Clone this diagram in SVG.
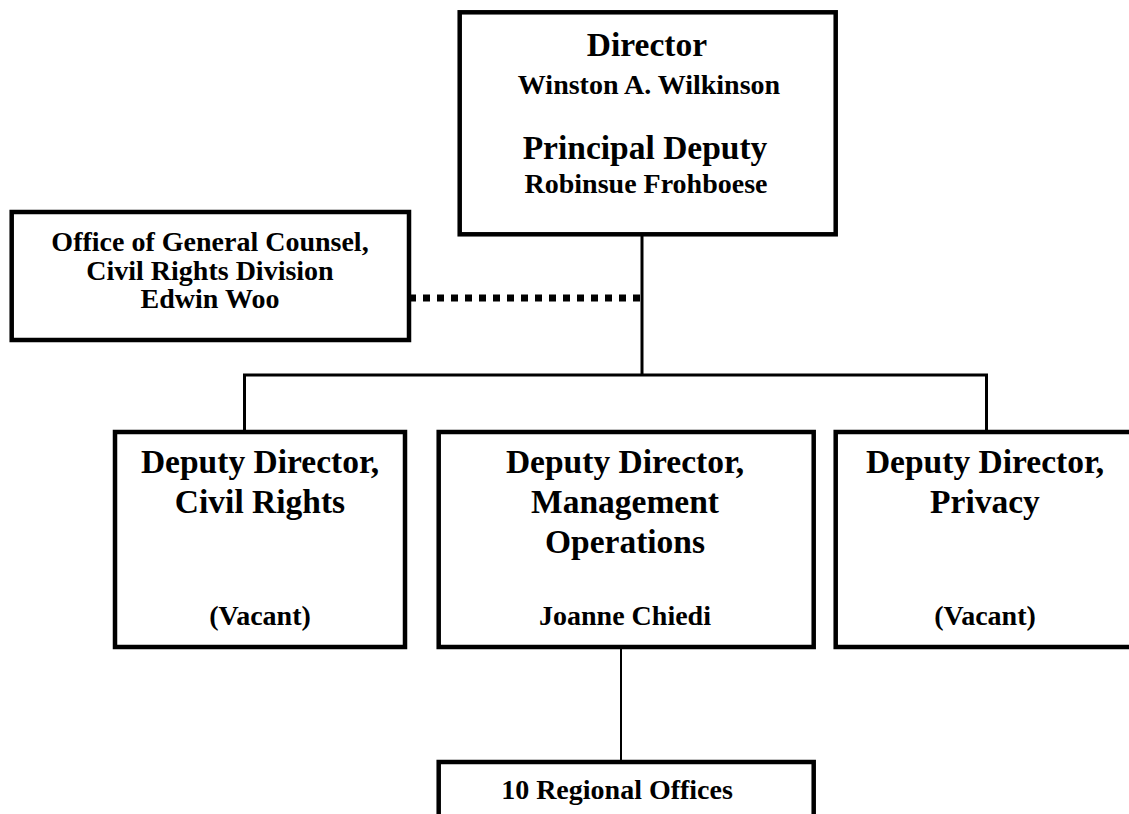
<svg xmlns="http://www.w3.org/2000/svg" width="1129" height="814" viewBox="0 0 1129 814">
<style>
.box{fill:#fff;stroke:#000;stroke-width:4.5}
.t{font-family:"Liberation Serif","Times New Roman",serif;font-weight:bold;font-size:33.5px;text-anchor:middle;fill:#000}
.n{font-family:"Liberation Serif","Times New Roman",serif;font-weight:bold;font-size:28px;text-anchor:middle;fill:#000}
.c{fill:none;stroke:#000;stroke-width:3}
</style>
<rect width="1129" height="814" fill="#fff"/>
<g id="connectors">
<line class="c" x1="642" y1="234" x2="642" y2="375"/>
<polyline class="c" points="244.5,432 244.5,375 986.5,375 986.5,432"/>
<line x1="409" y1="298" x2="642" y2="298" stroke="#000" stroke-width="7" stroke-dasharray="7,7"/>
<line x1="621" y1="647" x2="621" y2="762" stroke="#000" stroke-width="2"/>
</g>
<g id="director">
<rect class="box" x="459.7" y="12.3" width="376" height="222"/>
<text class="t" x="647" y="56">Director</text>
<text class="n" x="649" y="94">Winston A. Wilkinson</text>
<text class="t" x="645" y="159">Principal Deputy</text>
<text class="n" x="646" y="193">Robinsue Frohboese</text>
</g>
<g id="ogc">
<rect class="box" x="11.7" y="212" width="397.3" height="128"/>
<text class="n" x="210" y="251">Office of General Counsel,</text>
<text class="n" x="210" y="280">Civil Rights Division</text>
<text class="n" x="210" y="308">Edwin Woo</text>
</g>
<g id="dd-civil-rights">
<rect class="box" x="115" y="432" width="290" height="215"/>
<text class="t" x="260" y="473">Deputy Director,</text>
<text class="t" x="260" y="513">Civil Rights</text>
<text class="n" x="260" y="625">(Vacant)</text>
</g>
<g id="dd-management">
<rect class="box" x="438.7" y="432" width="375" height="215"/>
<text class="t" x="625" y="473">Deputy Director,</text>
<text class="t" x="625" y="513">Management</text>
<text class="t" x="625" y="553">Operations</text>
<text class="n" x="625" y="625">Joanne Chiedi</text>
</g>
<g id="dd-privacy">
<rect class="box" x="835.7" y="432" width="300.6" height="215"/>
<text class="t" x="985" y="473">Deputy Director,</text>
<text class="t" x="985" y="513">Privacy</text>
<text class="n" x="985" y="625">(Vacant)</text>
</g>
<g id="regional">
<rect class="box" x="438.7" y="762" width="375" height="80"/>
<text class="n" x="617" y="799">10 Regional Offices</text>
</g>
</svg>
